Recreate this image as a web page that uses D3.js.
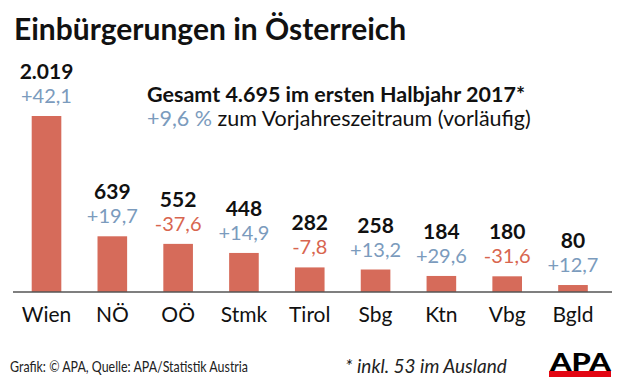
<!DOCTYPE html>
<meta charset="utf-8">
<style>
body { margin: 0; background: #fff; }
svg text { font-family: Lato, "Open Sans", sans-serif; }
</style>
<body>
<svg width="620" height="388"></svg>
<script src="https://d3js.org/d3.v7.min.js"></script>
<script>

// data
var regions = ["Wien", "NÖ", "OÖ", "Stmk", "Tirol", "Sbg", "Ktn", "Vbg", "Bgld"];
var counts = [2019, 639, 552, 448, 282, 258, 184, 180, 80];
var changes = [42.1, 19.7, -37.6, 14.9, -7.8, 13.2, 29.6, -31.6, 12.7];

var title = "Einbürgerungen in Österreich";
var totalLine = "Gesamt 4.695 im ersten Halbjahr 2017*";
var totalChange = 9.6;
var totalNote = " zum Vorjahreszeitraum (vorläufig)";
var source = "Grafik: © APA, Quelle: APA/Statistik Austria";
var footnote = "* inkl. 53 im Ausland";

var de = d3.formatLocale({decimal: ",", thousands: ".", grouping: [3], currency: ["", " €"]});
var fmtCount = de.format(",d");
var fmtChange = function(v){ return (v > 0 ? "+" : "-") + de.format(".1f")(Math.abs(v)); };

var svg = d3.select("svg");

var x = d3.scaleBand()
	.domain(regions)
	.range([13.6, 605.9])
	.paddingInner(0.55)
	.paddingOuter(0.275);

var y = d3.scaleLinear()
	.domain([0, 2019])
	.range([292, 116]);

var blue = "#7b9bbd", red = "#d8654f", barColor = "#d66b5a";

svg.append("text")
	.attr("x", 14).attr("y", 40)
	.style("font-size", "30px").style("font-weight", 700)
	.attr("fill", "#111")
	.text(title);

// bars
svg.selectAll(".bar")
	.data(regions)
	.enter().append("rect")
	.attr("class", "bar")
	.attr("x", function(d){ return x(d); })
	.attr("width", x.bandwidth())
	.attr("y", function(d, i){ return y(counts[i]); })
	.attr("height", function(d, i){ return y(0) - y(counts[i]); })
	.attr("fill", barColor);

// value labels
svg.selectAll(".val")
	.data(regions)
	.enter().append("text")
	.attr("class", "val")
	.attr("text-anchor", "middle")
	.attr("x", function(d){ return x(d) + x.bandwidth()/2; })
	.attr("y", function(d, i){ return y(counts[i]) - 37; })
	.style("font-size", "21px").style("font-weight", 700)
	.attr("fill", "#111")
	.text(function(d, i){ return fmtCount(counts[i]); });

svg.selectAll(".chg")
	.data(regions)
	.enter().append("text")
	.attr("class", "chg")
	.attr("text-anchor", "middle")
	.attr("x", function(d){ return x(d) + x.bandwidth()/2; })
	.attr("y", function(d, i){ return y(counts[i]) - 13; })
	.style("font-size", "20px")
	.attr("fill", function(d, i){ return changes[i] < 0 ? red : blue; })
	.text(function(d, i){ return fmtChange(changes[i]); });

// baseline + category labels
svg.append("line")
	.attr("x1", 13).attr("x2", 612)
	.attr("y1", y(0)).attr("y2", y(0))
	.attr("stroke", "#555").attr("stroke-width", 1.5);

var xAxis = d3.axisBottom(x).tickSize(0).tickPadding(0);
var gx = svg.append("g")
	.attr("transform", "translate(0," + y(0) + ")")
	.call(xAxis);
gx.select(".domain").remove();
gx.selectAll("text")
	.attr("dy", null)
	.attr("y", 30)
	.style("font-family", "Lato, sans-serif")
	.style("font-size", "21px")
	.attr("fill", "#111");

// total box
svg.append("text")
	.attr("x", 147).attr("y", 102)
	.style("font-size", "21.5px").style("font-weight", 700)
	.attr("fill", "#111")
	.text(totalLine);

var t2 = svg.append("text")
	.attr("x", 147).attr("y", 126)
	.style("font-size", "21.5px")
	.attr("fill", "#111");
t2.append("tspan").attr("fill", blue).text("+" + de.format(".1f")(totalChange) + " %");
t2.append("tspan").text(totalNote);

// footer
svg.append("text")
	.attr("x", 10).attr("y", 372)
	.style("font-size", "15px")
	.attr("textLength", 238).attr("lengthAdjust", "spacingAndGlyphs")
	.attr("fill", "#222")
	.text(source);

svg.append("text")
	.attr("x", 345).attr("y", 373)
	.style("font-size", "19px").style("font-style", "italic")
	.attr("fill", "#222")
	.text(footnote);

// APA logo
svg.append("text")
	.attr("x", 550).attr("y", 371)
	.style("font-size", "24px").style("font-weight", 900)
	.attr("textLength", 61).attr("lengthAdjust", "spacingAndGlyphs")
	.attr("fill", "#000")
	.text("APA");
svg.append("rect")
	.attr("x", 549).attr("y", 371)
	.attr("width", 62).attr("height", 6)
	.attr("fill", "#e30613");

</script>
</body>
